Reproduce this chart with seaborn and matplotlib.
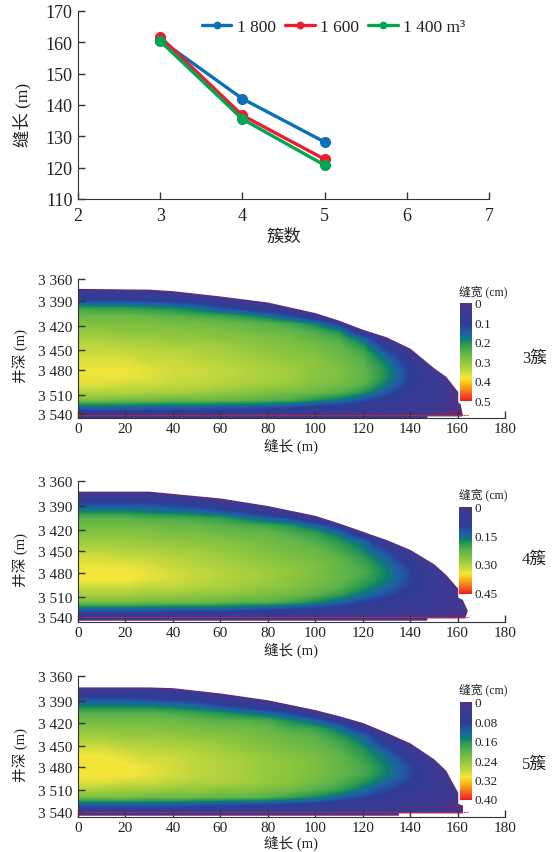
import numpy as np
import pandas as pd
import seaborn as sns
import matplotlib.pyplot as plt
from matplotlib.colors import LinearSegmentedColormap
from matplotlib.patches import Polygon

# top chart
CLUSTERS = [3, 4, 5]
LEN_1800 = [160.8, 142.0, 128.2]
LEN_1600 = [161.7, 136.7, 122.7]
LEN_1400 = [160.4, 135.5, 120.8]
VOLUMES = ['1 800', '1 600', '1 400 m³']
LINE_COLORS = ['#0a71b8', '#ed1c2e', '#00a651']

# fracture width tables, 0.01 cm, rows are depth and columns are length
TABLE_LENGTHS = list(range(0, 170, 10))
TABLE_DEPTHS = list(range(3370, 3550, 10))

WIDTH_3 = [
    [0, 0, 0, 0, 0, 0, 0, 0, 0, 0, 0, 0, 0, 0, 0, 0, 0],
    [5, 5, 5, 5, 3, 2, 0, 0, 0, 0, 0, 0, 0, 0, 0, 0, 0],
    [13, 13, 13, 12, 11, 9, 5, 2, 0, 0, 0, 0, 0, 0, 0, 0, 0],
    [23, 22, 22, 21, 20, 18, 14, 11, 7, 3, 0, 0, 0, 0, 0, 0, 0],
    [27, 27, 27, 26, 25, 24, 23, 21, 18, 13, 6, 0, 0, 0, 0, 0, 0],
    [29, 29, 29, 29, 28, 28, 27, 26, 25, 23, 19, 11, 0, 0, 0, 0, 0],
    [31, 31, 30, 30, 30, 29, 29, 28, 27, 26, 24, 20, 6, 0, 0, 0, 0],
    [33, 33, 32, 32, 31, 31, 30, 30, 29, 28, 26, 24, 17, 4, 0, 0, 0],
    [35, 35, 34, 34, 33, 33, 32, 31, 30, 29, 28, 26, 21, 10, 1, 0, 0],
    [36, 36, 36, 35, 35, 34, 33, 32, 31, 30, 29, 27, 24, 15, 6, 0, 0],
    [37, 37, 37, 36, 36, 35, 34, 33, 32, 31, 30, 28, 25, 18, 9, 1, 0],
    [38, 38, 38, 37, 36, 36, 35, 34, 33, 32, 30, 29, 26, 20, 11, 2, 0],
    [38, 38, 38, 37, 36, 36, 35, 34, 33, 32, 30, 29, 26, 20, 11, 4, 0],
    [37, 37, 36, 36, 35, 35, 34, 33, 32, 31, 29, 28, 25, 18, 10, 5, 0],
    [34, 34, 34, 33, 33, 32, 31, 30, 29, 28, 27, 25, 21, 14, 8, 5, 0],
    [29, 29, 28, 28, 27, 27, 27, 26, 25, 24, 21, 18, 14, 10, 6, 4, 1],
    [16, 16, 16, 15, 15, 15, 14, 14, 13, 12, 10, 9, 7, 5, 4, 3, 1],
    [7, 7, 7, 7, 7, 7, 7, 7, 6, 6, 6, 5, 5, 4, 3, 2, 0],
]
WIDTH_4 = [
    [0, 0, 0, 0, 0, 0, 0, 0, 0, 0, 0, 0, 0, 0, 0, 0, 0],
    [4, 4, 4, 4, 3, 2, 0, 0, 0, 0, 0, 0, 0, 0, 0, 0, 0],
    [11, 11, 11, 11, 10, 8, 5, 2, 0, 0, 0, 0, 0, 0, 0, 0, 0],
    [17, 17, 17, 16, 15, 14, 12, 9, 5, 2, 0, 0, 0, 0, 0, 0, 0],
    [23, 23, 23, 22, 22, 21, 20, 17, 14, 11, 4, 0, 0, 0, 0, 0, 0],
    [25, 25, 25, 25, 24, 24, 23, 22, 21, 19, 15, 9, 0, 0, 0, 0, 0],
    [27, 27, 27, 27, 26, 26, 25, 24, 24, 22, 20, 16, 5, 0, 0, 0, 0],
    [29, 29, 29, 28, 28, 27, 27, 26, 25, 24, 22, 19, 15, 4, 0, 0, 0],
    [31, 31, 30, 30, 29, 29, 28, 27, 26, 25, 24, 21, 17, 10, 1, 0, 0],
    [33, 33, 32, 32, 31, 30, 29, 28, 27, 26, 25, 23, 19, 14, 5, 0, 0],
    [34, 34, 34, 33, 32, 31, 30, 29, 28, 27, 26, 24, 21, 16, 9, 2, 0],
    [35, 35, 35, 34, 33, 32, 31, 30, 29, 28, 26, 24, 22, 17, 11, 4, 0],
    [35, 35, 35, 34, 33, 32, 31, 30, 29, 27, 26, 24, 21, 17, 11, 5, 0],
    [33, 33, 33, 32, 32, 31, 30, 29, 28, 27, 25, 23, 19, 15, 10, 5, 1],
    [30, 30, 30, 29, 29, 28, 28, 27, 26, 25, 23, 20, 16, 12, 8, 5, 2],
    [26, 26, 26, 25, 25, 25, 24, 23, 23, 21, 18, 15, 11, 8, 6, 4, 3],
    [14, 14, 14, 14, 13, 13, 13, 12, 11, 10, 9, 7, 6, 5, 4, 3, 2],
    [6, 6, 6, 6, 6, 6, 6, 6, 5, 5, 5, 5, 4, 4, 3, 2, 1],
]
WIDTH_5 = [
    [0, 0, 0, 0, 0, 0, 0, 0, 0, 0, 0, 0, 0, 0, 0, 0, 0],
    [4, 4, 4, 4, 3, 2, 0, 0, 0, 0, 0, 0, 0, 0, 0, 0, 0],
    [10, 10, 10, 9, 8, 7, 4, 2, 0, 0, 0, 0, 0, 0, 0, 0, 0],
    [15, 15, 15, 15, 14, 13, 10, 8, 5, 2, 0, 0, 0, 0, 0, 0, 0],
    [20, 20, 20, 20, 19, 18, 17, 15, 13, 10, 4, 0, 0, 0, 0, 0, 0],
    [22, 22, 22, 22, 22, 21, 20, 20, 19, 16, 13, 8, 2, 0, 0, 0, 0],
    [24, 24, 24, 24, 23, 23, 22, 22, 21, 19, 18, 14, 7, 1, 0, 0, 0],
    [26, 26, 25, 25, 25, 24, 24, 23, 22, 21, 20, 17, 13, 5, 0, 0, 0],
    [28, 28, 27, 27, 26, 26, 25, 24, 23, 22, 21, 19, 15, 8, 1, 0, 0],
    [30, 30, 29, 28, 28, 27, 26, 25, 24, 23, 22, 20, 17, 12, 4, 0, 0],
    [31, 31, 30, 29, 29, 28, 27, 26, 25, 24, 23, 21, 18, 14, 8, 1, 0],
    [31, 31, 31, 30, 29, 28, 27, 26, 25, 24, 23, 21, 19, 15, 10, 3, 0],
    [31, 31, 31, 30, 29, 28, 27, 26, 25, 24, 23, 21, 19, 15, 10, 4, 0],
    [30, 30, 29, 29, 28, 27, 27, 26, 25, 24, 22, 20, 17, 13, 9, 4, 0],
    [27, 27, 26, 26, 25, 25, 24, 24, 23, 22, 20, 18, 14, 10, 7, 4, 1],
    [23, 23, 23, 22, 22, 22, 21, 21, 20, 18, 16, 13, 10, 7, 5, 3, 2],
    [12, 12, 12, 12, 12, 11, 11, 10, 10, 9, 8, 6, 5, 4, 3, 2, 1],
    [6, 6, 6, 6, 6, 6, 6, 5, 5, 5, 5, 4, 4, 3, 3, 2, 1],
]

# fracture outline, length against depth
EDGE_LEN = [0, 30, 40, 60, 80, 100, 110, 120, 130, 140, 150, 155, 160]
EDGE_3 = [3374, 3375, 3377, 3384, 3392, 3406, 3416, 3428, 3438, 3453, 3479, 3490, 3510]
EDGE_4 = [3375, 3375, 3378, 3384, 3394, 3407, 3417, 3428, 3439, 3452, 3471, 3485, 3503]
EDGE_5 = [3376, 3376, 3377, 3384, 3393, 3406, 3414, 3423, 3436, 3450, 3471, 3486, 3515]
TIP_3 = [(160, 3524), (161, 3526), (162, 3541), (147, 3541), (147, 3544), (0, 3544)]
TIP_4 = [(160, 3515), (162, 3518), (164, 3532), (163, 3541), (147, 3541), (147, 3544), (0, 3544)]
TIP_5 = [(160, 3530), (162, 3532), (162, 3541), (135, 3541), (135, 3544), (0, 3544)]

DEPTH_LABELS = ['3 360', '3 390', '3 420', '3 450', '3 480', '3 510', '3 540']
DEPTH_TICKS_3 = [3360, 3389.6, 3421.8, 3454, 3481, 3513, 3539]
DEPTH_TICKS_4 = [3360, 3393.6, 3424.7, 3453, 3481.5, 3513, 3540]
DEPTH_TICKS_5 = [3360, 3393, 3422.6, 3452, 3481, 3511, 3540]

CBAR_TICKS_3 = [0, 0.1, 0.2, 0.3, 0.4, 0.5]
CBAR_LABELS_3 = ['0', '0.1', '0.2', '0.3', '0.4', '0.5']
CBAR_TICKS_4 = [0, 0.15, 0.30, 0.45]
CBAR_LABELS_4 = ['0', '0.15', '0.30', '0.45']
CBAR_TICKS_5 = [0, 0.08, 0.16, 0.24, 0.32, 0.40]
CBAR_LABELS_5 = ['0', '0.08', '0.16', '0.24', '0.32', '0.40']

WIDTH_CMAP = LinearSegmentedColormap.from_list('frac', [
    (0.00, '#5c2d7e'), (0.05, '#3f3a92'), (0.22, '#2e3d97'), (0.30, '#1f5fa8'),
    (0.37, '#0f7c74'), (0.42, '#2a9a4f'), (0.50, '#5cb24a'), (0.60, '#8cc63f'),
    (0.70, '#c4d93e'), (0.76, '#f3e63c'), (0.80, '#fcd116'), (0.87, '#f7941d'),
    (1.00, '#ed1c24')])

W, H = 553, 853
AXIS_COLOR = '#333333'
TEXT_COLOR = '#222222'

sns.set_style('ticks')
plt.rcParams['font.family'] = ['Liberation Serif', 'Noto Sans CJK SC']
plt.rcParams['text.color'] = TEXT_COLOR
plt.rcParams['axes.labelcolor'] = TEXT_COLOR
plt.rcParams['axes.edgecolor'] = AXIS_COLOR
plt.rcParams['xtick.color'] = AXIS_COLOR
plt.rcParams['ytick.color'] = AXIS_COLOR
plt.rcParams['xtick.labelcolor'] = TEXT_COLOR
plt.rcParams['ytick.labelcolor'] = TEXT_COLOR


def px_axes(fig, left, top, right, bottom):
    return fig.add_axes([left / W, 1 - bottom / H, (right - left) / W, (bottom - top) / H])


def draw_lines(fig):
    ax = px_axes(fig, 78, 12, 489, 200)
    df = pd.DataFrame({
        'clusters': CLUSTERS * 3,
        'length': LEN_1800 + LEN_1600 + LEN_1400,
        'volume': np.repeat(VOLUMES, 3),
    })
    sns.lineplot(data=df, x='clusters', y='length', hue='volume', hue_order=VOLUMES,
                 palette=LINE_COLORS, marker='o', markersize=8, markeredgewidth=0,
                 linewidth=2.4, errorbar=None, ax=ax)
    ax.set_xlim(2, 7)
    ax.set_ylim(110, 170)
    ax.set_xticks(range(2, 8))
    ax.set_yticks(range(110, 180, 10))
    ax.tick_params(direction='in', length=5, width=1, labelsize=13, pad=4)
    ax.tick_params(axis='x', pad=6)
    ax.set_xlabel('簇数', fontsize=12.5, labelpad=3)
    ax.set_ylabel('缝长 (m)', fontsize=12.5)
    ax.yaxis.set_label_coords((31 - 78) / 411, 0.45)
    sns.despine(ax=ax)
    ax.legend(loc='upper center', bbox_to_anchor=(0.622, 1.005), ncol=3, frameon=False,
              fontsize=12.5, markerscale=0.7, handlelength=1.7, handletextpad=0.3,
              columnspacing=0.55, borderpad=0, title=None)


def draw_panel(fig, top, bottom, table, edge, tip, depth_ticks, vmax,
               cbar_box, cbar_ticks, cbar_labels, title_y, side_label, side_y, xlabel_pad):
    ax = px_axes(fig, 78, top, 505, bottom)
    values = np.array(table) / 100
    extent = (TABLE_LENGTHS[0] - 5, TABLE_LENGTHS[-1] + 5, TABLE_DEPTHS[-1] + 5, TABLE_DEPTHS[0] - 5)
    im = ax.imshow(values, cmap=WIDTH_CMAP, vmin=0, vmax=vmax, extent=extent, aspect='auto',
                   interpolation='bilinear', interpolation_stage='data')
    outline = list(zip(EDGE_LEN, edge)) + tip
    rim = Polygon(outline, closed=True, facecolor='none', edgecolor='#5c2d7e', linewidth=1.0,
                  transform=ax.transData, zorder=2)
    ax.add_patch(rim)
    im.set_clip_path(rim)
    ax.plot([0, 165], [3540, 3540], color='#ed1c24', linewidth=0.7, linestyle=(0, (2, 1)), zorder=3)

    ax.set_xlim(0, 180)
    ax.set_ylim(3360 + (bottom - top) / 0.7556, 3360)
    ax.set_xticks(range(0, 200, 20))
    ax.set_yticks(depth_ticks)
    ax.set_yticklabels(DEPTH_LABELS)
    ax.tick_params(direction='in', length=5, width=1, labelsize=11, pad=4)
    ax.tick_params(axis='x', pad=3)
    ax.set_xlabel('缝长 (m)', fontsize=10.5, labelpad=xlabel_pad)
    ax.set_ylabel('井深 (m)', fontsize=10.5)
    ax.yaxis.set_label_coords((28 - 78) / 427, 0.45)
    sns.despine(ax=ax)

    left, cbar_top, right, cbar_bottom = cbar_box
    cax = px_axes(fig, left, cbar_top, right, cbar_bottom)
    cbar = fig.colorbar(im, cax=cax)
    cbar.outline.set_visible(False)
    cbar.set_ticks(cbar_ticks, labels=cbar_labels)
    cax.invert_yaxis()
    cax.tick_params(length=0, pad=1.5, labelsize=9.5)

    fig.text(483 / W, 1 - title_y / H, '缝宽 (cm)', ha='center', va='center', fontsize=8.5)
    fig.text(522 / W, 1 - side_y / H, side_label, ha='left', va='center', fontsize=12)


fig = plt.figure(figsize=(W / 100, H / 100), dpi=100)
draw_lines(fig)
draw_panel(fig, 280, 419, WIDTH_3, EDGE_3, TIP_3, DEPTH_TICKS_3, 0.505,
           (460, 304, 472, 402), CBAR_TICKS_3, CBAR_LABELS_3, 292, '3簇', 359, 2)
draw_panel(fig, 482, 623, WIDTH_4, EDGE_4, TIP_4, DEPTH_TICKS_4, 0.46,
           (459, 508, 472, 595), CBAR_TICKS_4, CBAR_LABELS_4, 495, '4簇', 560, 2)
draw_panel(fig, 677, 818, WIDTH_5, EDGE_5, TIP_5, DEPTH_TICKS_5, 0.405,
           (460, 703, 472, 801), CBAR_TICKS_5, CBAR_LABELS_5, 690, '5簇', 765, 0)

fig.savefig('out.png', dpi=100)
